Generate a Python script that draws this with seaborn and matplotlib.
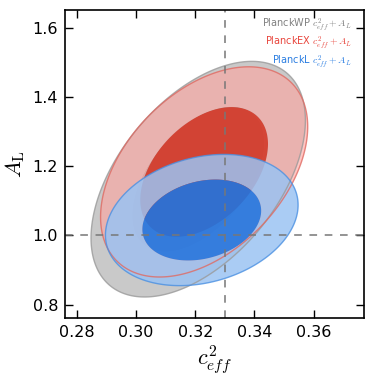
import numpy as np
import matplotlib
matplotlib.use("Agg")
import matplotlib.pyplot as plt
import seaborn as sns

# chains summarised as 2D gaussians (c_eff^2, A_L)
names = ["PlanckWP", "PlanckEX", "PlanckL"]
mean_c = [0.3210, 0.3230, 0.3222]
mean_A = [1.162, 1.183, 1.044]
sig_c = [0.0148, 0.0143, 0.0133]
sig_A = [0.139, 0.124, 0.0774]
rho = [0.50, 0.43, 0.23]

fiducial_c = 0.33
fiducial_A = 1.0

x_ticks = [0.28, 0.30, 0.32, 0.34, 0.36]
y_ticks = [0.8, 1.0, 1.2, 1.4, 1.6]

# styles
outer_cols = ["#c9c9c9", "#ffa39e", "#9bc3f3"]
inner_cols = ["#ababab", "#d63a2a", "#1c76e4"]
outer_alpha = [1.0, 0.6, 0.85]
inner_alpha = [1.0, 0.92, 0.88]
edge_cols = ["#9a9a9a", "#e06a62", "#4a90e2"]
text_cols = ["#808080", "#e8453c", "#2a7de1"]

sns.set_style("ticks")
plt.rcParams["mathtext.fontset"] = "cm"
plt.rcParams["font.family"] = ["DejaVu Sans"]

fig = plt.figure(figsize=(3.74, 3.79), dpi=100)
ax = fig.add_axes([0.174, 0.160, 0.799, 0.814])

xx = np.linspace(0.26, 0.40, 400)
yy = np.linspace(0.6, 1.8, 400)
X, Y = np.meshgrid(xx, yy)

chi68 = -2 * np.log(1 - 0.68)
chi95 = -2 * np.log(1 - 0.95)

surfaces = []
for i in range(len(names)):
    dx = (X - mean_c[i]) / sig_c[i]
    dy = (Y - mean_A[i]) / sig_A[i]
    q = (dx**2 - 2 * rho[i] * dx * dy + dy**2) / (1 - rho[i]**2)
    Z = np.exp(-0.5 * q)
    surfaces.append(Z)
    ax.contourf(X, Y, Z, levels=[np.exp(-0.5 * chi95), np.exp(-0.5 * chi68)],
                colors=[outer_cols[i]], alpha=outer_alpha[i], antialiased=True)
    ax.contourf(X, Y, Z, levels=[np.exp(-0.5 * chi68), 1.1],
                colors=[inner_cols[i]], alpha=inner_alpha[i], antialiased=True)

for i in range(len(names)):
    ax.contour(X, Y, surfaces[i], levels=[np.exp(-0.5 * chi95)],
               colors=[edge_cols[i]], linewidths=1.0, alpha=0.8)

ax.axvline(fiducial_c, color="#777777", ls=(0, (5, 5)), lw=1.1)
ax.axhline(fiducial_A, color="#777777", ls=(0, (5, 5)), lw=1.1)

ax.set_xlim(0.276, 0.377)
ax.set_ylim(0.76, 1.651)
ax.set_xticks(x_ticks)
ax.set_yticks(y_ticks)
ax.tick_params(direction="in", top=True, right=True, length=6, width=1,
               labelsize=11.5, pad=5, color="black", labelcolor="black")
for s in ax.spines.values():
    s.set_linewidth(1.2)
    s.set_color("black")

ax.set_xlabel(r"$c_{eff}^2$", fontsize=16, labelpad=2, color="black")
ax.set_ylabel(r"$A_{\rm L}$", fontsize=16, labelpad=4, color="black")

for i in range(len(names)):
    ax.text(0.959, 0.952 - i * 0.06, names[i] + r" $c_{eff}^2+A_L$",
            transform=ax.transAxes, ha="right", va="center",
            color=text_cols[i], fontsize=7)

fig.savefig("out.png", dpi=100)
